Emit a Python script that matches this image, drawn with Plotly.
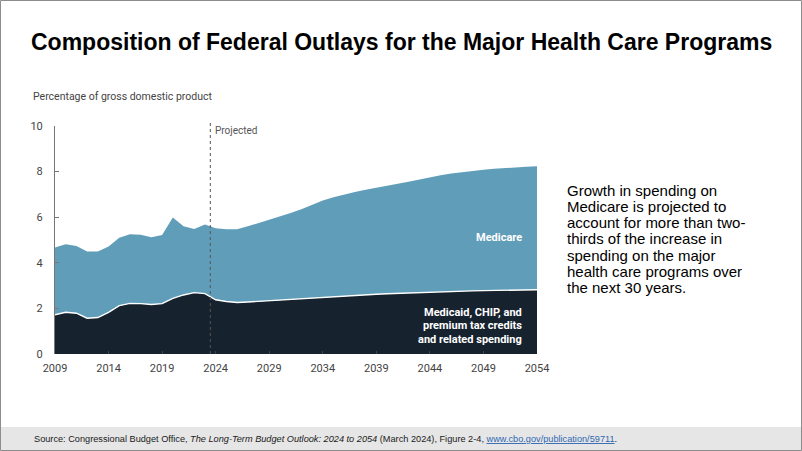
import plotly.graph_objects as go

years = list(range(2009, 2055))

# Medicaid, CHIP, and premium tax credits and related spending (% of GDP)
medicaid = [1.72, 1.83, 1.79, 1.57, 1.60, 1.83, 2.12, 2.22, 2.21, 2.17,
            2.21, 2.44, 2.59, 2.69, 2.65, 2.38, 2.30, 2.26, 2.28, 2.31,
            2.34, 2.37, 2.40, 2.43, 2.46, 2.49, 2.52, 2.55, 2.58, 2.60,
            2.62, 2.64, 2.66, 2.68, 2.70, 2.72, 2.74, 2.75, 2.76, 2.77,
            2.78, 2.79, 2.80, 2.81, 2.81, 2.82]

# Total (Medicaid + Medicare) read from the top edge
total = [4.67, 4.81, 4.74, 4.50, 4.50, 4.72, 5.10, 5.25, 5.23, 5.12,
         5.22, 5.99, 5.60, 5.48, 5.68, 5.52, 5.47, 5.47, 5.60, 5.74,
         5.90, 6.03, 6.18, 6.35, 6.55, 6.73, 6.88, 7.00, 7.10, 7.20,
         7.30, 7.39, 7.47, 7.56, 7.66, 7.76, 7.84, 7.92, 7.98, 8.03,
         8.08, 8.12, 8.16, 8.19, 8.21, 8.23]

medicare = [round(t - m, 2) for t, m in zip(total, medicaid)]

x_ticks = [2009, 2014, 2019, 2024, 2029, 2034, 2039, 2044, 2049, 2054]
y_ticks = [0, 2, 4, 6, 8, 10]
projected_start = 2023.5

DARK = "#17222f"
BLUE = "#5f9db9"
CHART_FONT = "Roboto, Arial, sans-serif"

fig = go.Figure()
fig.add_trace(go.Scatter(x=years, y=medicaid, stackgroup="one", mode="lines",
                         line=dict(width=0, color=DARK), fillcolor=DARK,
                         name="Medicaid", hoverinfo="skip"))
fig.add_trace(go.Scatter(x=years, y=medicare, stackgroup="one", mode="lines",
                         line=dict(width=0, color=BLUE), fillcolor=BLUE,
                         name="Medicare", hoverinfo="skip"))
fig.add_trace(go.Scatter(x=years, y=medicaid, mode="lines",
                         line=dict(width=1.4, color="white"),
                         hoverinfo="skip", showlegend=False))

L, R, T, B = 55, 265, 126, 97
W, H = 802, 451
pw, ph = W - L - R, H - T - B


def px(xp):
    return (xp - L) / pw


def py(yp):
    return (H - B - yp) / ph


fig.update_layout(
    width=W, height=H,
    margin=dict(l=L, r=R, t=T, b=B),
    paper_bgcolor="white", plot_bgcolor="white",
    showlegend=False,
    font=dict(family=CHART_FONT, size=11, color="#444444"),
    xaxis=dict(range=[2009, 2054], tickvals=x_ticks, showgrid=False,
               zeroline=False, showline=False, ticks="inside", ticklen=3,
               tickcolor="#3a4552", tickfont=dict(size=11, color="#444444"),
               ticklabelstandoff=6),
    yaxis=dict(range=[0, 10], tickvals=y_ticks, showgrid=False,
               zeroline=False, showline=True, linecolor="#777777", linewidth=1,
               ticks="inside", ticklen=4, tickcolor="#777777",
               tickfont=dict(size=11, color="#444444"),
               ticklabelstandoff=9),
)

shapes = [
    # slide border
    dict(type="rect", xref="paper", yref="paper", x0=px(0.5), x1=px(801.5),
         y0=py(0.5), y1=py(450.5), line=dict(color="#8c8c8c", width=1),
         fillcolor="rgba(0,0,0,0)", layer="above"),
    # footer band
    dict(type="rect", xref="paper", yref="paper", x0=px(1), x1=px(801),
         y0=py(427), y1=py(450), line=dict(width=0), fillcolor="#e6e6e6",
         layer="below"),
    # projected line
    dict(type="line", xref="x", yref="paper", x0=projected_start,
         x1=projected_start, y0=0, y1=py(121),
         line=dict(color="#555555", width=1, dash="dot"), layer="above"),
]
fig.update_layout(shapes=shapes)

ann = []
ann.append(dict(text="<b>Composition of Federal Outlays for the Major Health Care Programs</b>",
                xref="paper", yref="paper", x=px(401), y=py(42),
                xanchor="center", yanchor="middle", showarrow=False,
                font=dict(family="Liberation Sans, Arial, sans-serif",
                          size=23, color="black")))
ann.append(dict(text="Percentage of gross domestic product", xref="paper", yref="paper",
                x=px(31), y=py(97), xanchor="left", yanchor="middle", showarrow=False,
                font=dict(size=10.5, color="#444444")))
ann.append(dict(text="Projected", xref="x", yref="paper", x=projected_start, y=py(130),
                xanchor="left", yanchor="middle", xshift=3, showarrow=False,
                font=dict(size=10, color="#555555")))
ann.append(dict(text="<b>Medicare</b>", xref="paper", yref="paper", x=px(524), y=py(237),
                xanchor="right", yanchor="middle", showarrow=False,
                font=dict(size=11, color="white")))
for txt, yy in [("Medicaid, CHIP, and", 312), ("premium tax credits", 325.5),
                ("and related spending", 339)]:
    ann.append(dict(text="<b>" + txt + "</b>", xref="paper", yref="paper",
                    x=px(524), y=py(yy), xanchor="right", yanchor="middle",
                    showarrow=False, font=dict(size=11, color="white")))

side_lines = ["Growth in spending on", "Medicare is projected to",
              "account for more than two-", "thirds of the increase in",
              "spending on the major", "health care programs over",
              "the next 30 years."]
for i, t in enumerate(side_lines):
    ann.append(dict(text=t, xref="paper", yref="paper", x=px(565), y=py(190 + i * 16.3),
                    xanchor="left", yanchor="middle", showarrow=False,
                    font=dict(family="Liberation Sans, Arial, sans-serif", size=15,
                              color="black")))

ann.append(dict(
    text=("Source: Congressional Budget Office, <i>The Long-Term Budget Outlook: 2024 to 2054</i> "
          "(March 2024), Figure 2-4, "
          "<a href='https://www.cbo.gov/publication/59711' style='color:#2f67b2'><u>www.cbo.gov/publication/59711</u></a>."),
    xref="paper", yref="paper", x=px(32), y=py(438.5), xanchor="left", yanchor="middle",
    showarrow=False, font=dict(family="Liberation Sans, Arial, sans-serif", size=9.2,
                               color="#1a1a1a")))
fig.update_layout(annotations=ann)

fig.write_html("out.html", config={"displayModeBar": False},
               post_script="document.body.style.margin='0px';")
